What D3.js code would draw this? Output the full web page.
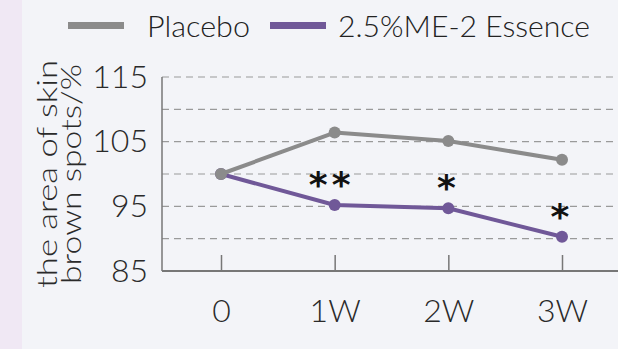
<!DOCTYPE html>
<html>
<head>
<meta charset="utf-8">
<script src="https://cdn.jsdelivr.net/npm/d3@7"></script>
<style>
  html, body { margin: 0; padding: 0; background: #f3f4f8; }
  svg { display: block; font-family: Lato, "Liberation Sans", Arial, sans-serif; font-weight: 300; }
</style>
</head>
<body>
<svg id="chart" width="618" height="349"></svg>
<script>
// Data
var weeks = [0, 1, 2, 3];
var weekLabels = ["0", "1W", "2W", "3W"];
var placebo = [100, 106.4, 105.1, 102.2];
var essence = [100, 95.2, 94.7, 90.3];
var marks = ["**", "*", "*"];          // significance at 1W, 2W, 3W
var markWeeks = [1, 2, 3];
var yTicks = [85, 95, 105, 115];
var gridValues = [90, 95, 100, 105, 110, 115];
var seriesNames = ["Placebo", "2.5%ME-2 Essence"];
var seriesColors = ["#8b8b8b", "#705898"];

var W = 618, H = 349;
var labelFont = "Lato, 'Liberation Sans', Arial, sans-serif";
var svg = d3.select("#chart");

// Background + left strip
svg.append("rect").attr("width", W).attr("height", H).attr("fill", "#f3f4f8");
svg.append("rect").attr("width", 22).attr("height", H).attr("fill", "#f0e8f4");

// Scales
var x = d3.scaleLinear().domain([0, 3]).range([221, 562]);
var y = d3.scaleLinear().domain([85, 115]).range([271, 77]);
var axisLeftX = 162;

// Grid
svg.append("g").attr("class", "grid")
  .selectAll("line")
  .data(gridValues)
  .enter().append("line")
    .attr("x1", axisLeftX)
    .attr("x2", W)
    .attr("y1", function(d) { return y(d); })
    .attr("y2", function(d) { return y(d); })
    .style("stroke", "#9a9a9a")
    .style("stroke-width", 1.2)
    .style("stroke-dasharray", "7,5");

// Y axis
var yAxis = svg.append("g")
  .attr("transform", "translate(" + axisLeftX + ",0)")
  .call(d3.axisLeft(y).tickValues(yTicks).tickSize(0).tickPadding(14));
yAxis.select(".domain").remove();
yAxis.selectAll("text")
  .style("font-size", "32px")
  .style("font-family", labelFont)
  .style("font-weight", 300)
  .style("fill", "#2a2a2a");

svg.append("line")
  .attr("x1", axisLeftX).attr("x2", axisLeftX)
  .attr("y1", y(115)).attr("y2", y(85))
  .style("stroke", "#777").style("stroke-width", 1.5);

// X axis
var xAxis = svg.append("g")
  .attr("transform", "translate(0," + y(85) + ")")
  .call(d3.axisBottom(x).tickValues(weeks)
    .tickFormat(function(d, i) { return weekLabels[i]; })
    .tickSizeInner(-16).tickSizeOuter(0));
xAxis.select(".domain").remove();
xAxis.selectAll(".tick line").style("stroke", "#777").style("stroke-width", 1.5);
xAxis.selectAll("text")
  .attr("y", 51).attr("dy", null)
  .style("font-size", "32px")
  .style("font-family", labelFont)
  .style("font-weight", 300)
  .style("fill", "#2a2a2a");

svg.append("line")
  .attr("x1", axisLeftX).attr("x2", W)
  .attr("y1", y(85)).attr("y2", y(85))
  .style("stroke", "#777").style("stroke-width", 2);

// Lines + points (purple first so grey sits on top at 0)
var line = d3.line()
  .x(function(d, i) { return x(weeks[i]); })
  .y(function(d) { return y(d); });

[essence, placebo].forEach(function(s, k) {
  var c = seriesColors[1 - k];
  svg.append("path")
    .datum(s)
    .attr("d", line)
    .style("fill", "none")
    .style("stroke", c)
    .style("stroke-width", 4)
    .style("stroke-linejoin", "round");
  svg.append("g").selectAll("circle")
    .data(s)
    .enter().append("circle")
      .attr("cx", function(d, i) { return x(weeks[i]); })
      .attr("cy", function(d) { return y(d); })
      .attr("r", 6)
      .style("fill", c);
});

// Significance marks
svg.append("g").selectAll("text")
  .data(marks)
  .enter().append("text")
    .attr("x", function(d, i) { return x(markWeeks[i]) - (d.length > 1 ? 3 : 0); })
    .attr("y", function(d, i) { return y(essence[weeks.indexOf(markWeeks[i])]) - 8; })
    .style("text-anchor", "middle")
    .style("font-family", "'DejaVu Sans', sans-serif")
    .style("font-weight", "bold")
    .style("font-size", "36px")
    .style("letter-spacing", "4px")
    .style("fill", "#111")
    .text(function(d) { return d; });

// Legend
var legendX = [68, 270];
var legendTextX = [147, 338];
var legendTextW = [103, 252];
seriesNames.forEach(function(name, i) {
  svg.append("rect")
    .attr("x", legendX[i]).attr("y", 22)
    .attr("width", 56).attr("height", 7)
    .style("fill", seriesColors[i]);
  svg.append("text")
    .attr("x", legendTextX[i]).attr("y", 37)
    .attr("textLength", legendTextW[i])
    .attr("lengthAdjust", "spacingAndGlyphs")
    .style("font-size", "29px")
    .style("fill", "#222")
    .text(name);
});

// Y title (two rotated lines)
var titleLines = ["the area of skin", "brown spots/%"];
var titleBase = [57, 81];
var titleLen = [228, 220];
titleLines.forEach(function(t, i) {
  svg.append("text")
    .attr("transform", "translate(" + titleBase[i] + ",174) rotate(-90)")
    .attr("textLength", titleLen[i])
    .attr("lengthAdjust", "spacingAndGlyphs")
    .style("text-anchor", "middle")
    .style("font-size", "27px")
    .style("fill", "#2a2a2a")
    .text(t);
});
</script>
</body>
</html>
